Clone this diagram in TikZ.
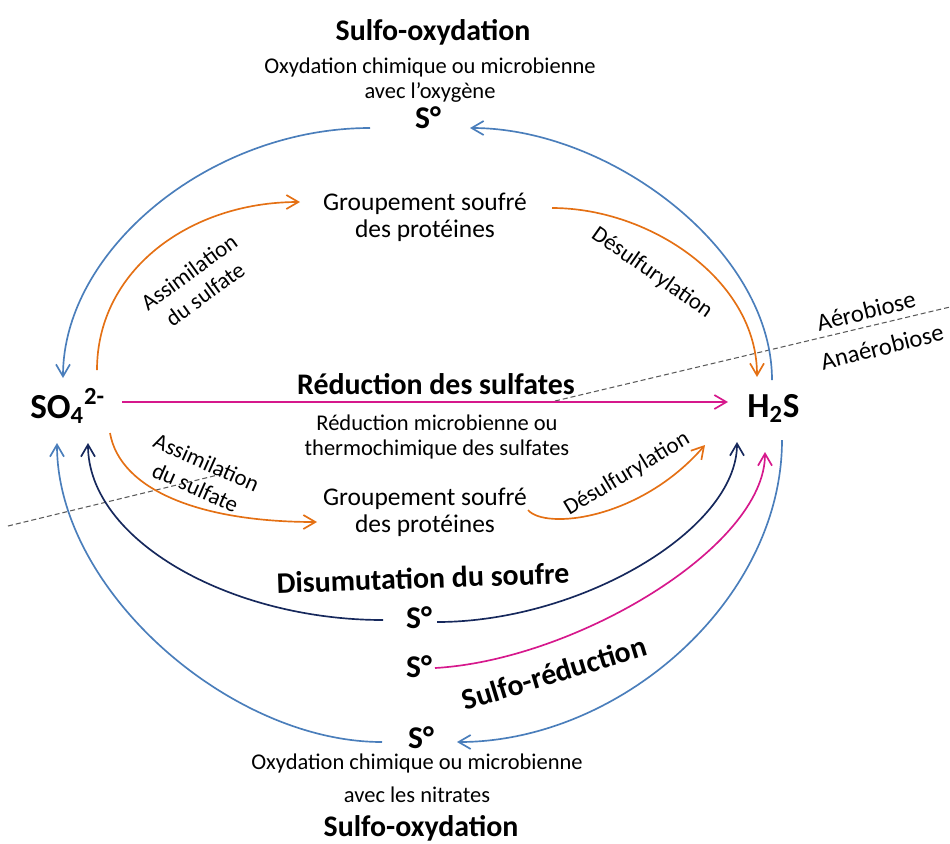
\documentclass[tikz,border=0pt]{standalone}
\usepackage{fontspec}
\setmainfont{Carlito}
\usetikzlibrary{arrows.meta}

\definecolor{oxblue}{RGB}{74,126,187}
\definecolor{assorange}{RGB}{228,112,20}
\definecolor{redpink}{RGB}{214,24,140}
\definecolor{disnavy}{RGB}{22,40,92}
\definecolor{limitgray}{RGB}{90,90,90}

\begin{document}
\begin{tikzpicture}[x=0.02cm, y=-0.02cm,
  >={Straight Barb[length=2.4mm,width=2.8mm]},
  flow/.style={line width=0.95pt, ->},
  oxflow/.style={flow, oxblue},
  assflow/.style={flow, assorange},
  redflow/.style={flow, redpink},
  disflow/.style={flow, disnavy},
  chem/.style={font=\bfseries\fontsize{20}{22}\selectfont, inner sep=0pt, anchor=base west},
  sulfur/.style={font=\bfseries\fontsize{18}{20}\selectfont, inner sep=0pt, anchor=base},
  title/.style={font=\bfseries\fontsize{17}{19}\selectfont, inner sep=0pt},
  desc/.style={font=\fontsize{12.8}{14.6}\selectfont, align=center, inner sep=0pt},
  group/.style={font=\fontsize{14.5}{15.5}\selectfont, align=center, inner sep=0pt},
  arclabel/.style={font=\fontsize{13}{15.5}\selectfont, align=center, inner sep=0pt},
  zone/.style={font=\fontsize{14}{16}\selectfont, inner sep=0pt, rotate=14}]

\useasboundingbox (0,0) rectangle (950,843);

% limite aerobiose / anaerobiose
\draw[limitgray, line width=0.6pt, dash pattern=on 1mm off 0.6mm] (8,526) -- (222,474);
\draw[limitgray, line width=0.6pt, dash pattern=on 1mm off 0.6mm] (555,401) -- (950,307);
\node[zone] (Aer) at (866,311) {Aérobiose};
\node[zone] (Anaer) at (882,347) {Anaérobiose};

% composes
\node[chem] (SO4) at (30,418) {SO\textsubscript{4}\textsuperscript{2-}};
\node[chem] (H2S) at (747,417) {H\textsubscript{2}S};

\node[sulfur] (Stop) at (428,128) {S°};
\node[sulfur] (Sdis) at (419,628) {S°};
\node[sulfur] (Sred) at (419,677) {S°};
\node[sulfur] (Sox) at (421,748) {S°};

\node[group] (Gp1) at (425,217) {Groupement soufré\\des protéines};
\node[group] (Gp2) at (425,512) {Groupement soufré\\des protéines};

% textes
\node[title] (T1) at (433,32) {Sulfo-oxydation};
\node[desc] (D1) at (430,80) {Oxydation chimique ou microbienne\\avec l’oxygène};
\node[title] (T2) at (436,384) {Réduction des sulfates};
\node[desc] (D2) at (437,437) {Réduction microbienne ou\\thermochimique des sulfates};
\node[title, rotate=2] (T3) at (423,578) {Disumutation du soufre};
\node[title, rotate=17] (T4) at (554,673) {Sulfo-réduction};
\node[desc, font=\fontsize{12.8}{18.8}\selectfont] (D3) at (417,778) {Oxydation chimique ou microbienne\\avec les nitrates};
\node[title] (T5) at (421,828) {Sulfo-oxydation};

\node[arclabel, rotate=36] (As1) at (197,283) {Assimilation\\du sulfate};
\node[arclabel, rotate=-24] (As2) at (201,475) {Assimilation\\du sulfate};
\node[arclabel, rotate=-35] (Ds1) at (652,273) {Désulfurylation};
\node[arclabel, rotate=31] (Ds2) at (627,474) {Désulfurylation};

% sulfo-oxydation
\draw[oxflow] ([shift={(-58,0)}]Stop.base) .. controls +(-160,0) and +(0,-128) .. ([shift={(33,-40)}]SO4.base west);
\draw[oxflow] ([shift={(25,-37)}]H2S.base west) .. controls +(0,-130) and +(140,0) .. ([shift={(42,0)}]Stop.base);
\draw[oxflow] ([shift={(-39,-6)}]Sox.base) .. controls +(-152,0) and +(0,147) .. ([shift={(27,25)}]SO4.base west);
\draw[oxflow] ([shift={(35,23)}]H2S.base west) .. controls +(0,160) and +(163,0) .. ([shift={(36,-6)}]Sox.base);

% assimilation et desulfurylation
\draw[assflow] ([shift={(67,-48)}]SO4.base west) .. controls +(0,-100) and +(-110,0) .. ([shift={(-125,-15)}]Gp1.center);
\draw[assflow] ([shift={(127,-9)}]Gp1.center) .. controls +(98,0) and +(0,-97) .. ([shift={(10,-40)}]H2S.base west);
\draw[assflow] ([shift={(80,15)}]SO4.base west) .. controls +(10,57) and +(-117,0) .. ([shift={(-108,10)}]Gp2.center);
\draw[assflow] ([shift={(103,-2)}]Gp2.center) .. controls +(17,20) and +(-65,75) .. ([shift={(-42,28)}]H2S.base west);

% reduction
\draw[redflow] ([shift={(92,-16)}]SO4.base west) -- ([shift={(-19,-15)}]H2S.base west);
\draw[redflow] ([shift={(16,-9)}]Sred.base) .. controls +(140,-8) and +(0,95) .. ([shift={(18,35)}]H2S.base west);

% dismutation
\draw[disflow] ([shift={(-36,-8)}]Sdis.base) .. controls +(-153,0) and +(0,97) .. ([shift={(58,25)}]SO4.base west);
\draw[disflow] ([shift={(18,-6)}]Sdis.base) .. controls +(143,0) and +(0,88) .. ([shift={(-10,25)}]H2S.base west);

\end{tikzpicture}
\end{document}
